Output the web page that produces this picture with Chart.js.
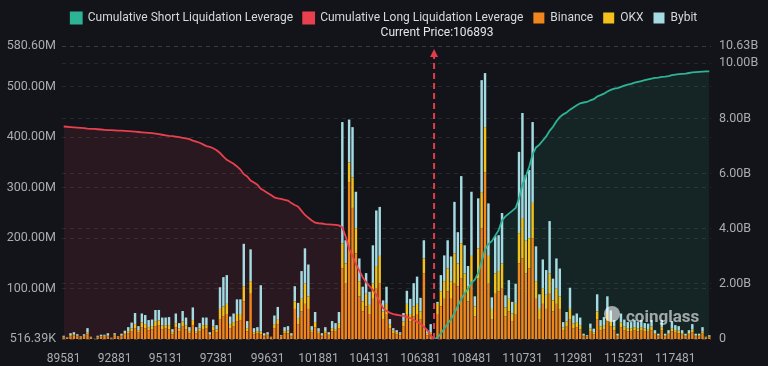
<html>
<head>
<style>
  body { margin: 0; background: #131419; }
  #wrap { width: 768px; height: 366px; }
</style>
</head>
<body>
<div id="wrap"><canvas id="myChart"></canvas></div>
<script src="https://cdn.jsdelivr.net/npm/chart.js@4.4.1/dist/chart.umd.min.js"></script>
<script>
// price levels (x categories)
var categories = [
  89581, 89731, 89881, 90031, 90331, 90481, 90781, 91081, 91231, 91531, 91831, 91981, 92281, 92581, 92731,
  92881, 93031, 93181, 93331, 93481, 93631, 93781, 93931, 94081, 94231, 94381, 94531, 94681, 94831, 94981,
  95131, 95281, 95431, 95581, 95731, 95881, 96031, 96181, 96331, 96481, 96631, 96781, 96931, 97081, 97231,
  97381, 97531, 97681, 97831, 97981, 98131, 98281, 98431, 98581, 98731, 98881, 99031, 99181, 99331, 99481,
  99631, 99781, 99931, 100081, 100231, 100381, 100531, 100681, 100831, 100981, 101131, 101281, 101431, 101581, 101731,
  101881, 102031, 102181, 102331, 102481, 102631, 102781, 102931, 103081, 103231, 103381, 103531, 103681, 103831, 103981,
  104131, 104281, 104431, 104581, 104731, 104881, 105031, 105181, 105331, 105481, 105631, 105781, 105931, 106081, 106231,
  106381, 106531, 106681, 106831, 106893, 106981, 107131, 107281, 107431, 107581, 107731, 107881, 108031, 108181, 108331,
  108481, 108631, 108781, 108931, 109081, 109231, 109381, 109531, 109681, 109831, 109981, 110131, 110281, 110431, 110581,
  110731, 110881, 111031, 111181, 111331, 111481, 111631, 111781, 111931, 112081, 112231, 112381, 112531, 112681, 112831,
  112981, 113131, 113281, 113431, 113581, 113731, 113881, 114031, 114181, 114331, 114481, 114631, 114781, 114931, 115081,
  115231, 115381, 115531, 115681, 115831, 115981, 116131, 116281, 116431, 116581, 116731, 116881, 117031, 117181, 117331,
  117481, 117631, 117781, 117931, 118081, 118231, 118381, 118531, 118681, 118831, 118981
];
var currentPrice = 106893;
var xTickLabels = [89581, 92881, 95131, 97381, 99631, 101881, 104131, 106381, 108481, 110731, 112981, 115231, 117481];

// liquidation leverage per price level, in millions
var binance = [
  4,3,6,8,6,4,5,10,3,1,4,5,5,6,2,
  7,4,6,9,12,15,22,13,24,22,18,20,26,28,20,21,20,10,24,16,26,20,12,28,12,16,20,21,7,18,14,40,45,50,22,25,36,38,75,16,90,10,12,10,6,7,3,
  22,30,5,12,12,6,60,30,55,70,60,13,24,11,6,12,7,16,15,22,140,110,310,260,170,85,55,65,50,80,100,110,40,50,22,12,10,8,25,50,35,45,50,40,130,8,
  10,0,
  50,65,80,95,80,110,105,120,90,75,110,45,120,220,330,110,40,90,95,100,45,55,36,50,150,160,130,140,200,80,40,70,60,90,55,70,60,17,25,40,22,24,20,6,5,15,10,40,18,20,35,26,18,6,24,18,16,15,18,16,17,15,15,18,9,6,17,6,9,16,13,12,9,6,9,14,6,6,11,3,4
];
var okx = [
  1,0,2,2,1,1,2,3,1,0,1,1,2,2,0,
  2,1,2,3,4,6,8,5,9,8,6,6,10,9,7,7,8,4,8,5,9,7,4,10,4,5,8,7,3,7,5,20,20,20,8,9,14,12,30,6,25,4,4,5,2,3,1,
  8,10,1,4,5,2,15,12,25,40,25,5,10,4,2,4,3,6,5,10,50,40,40,60,50,30,20,25,18,30,45,55,15,20,8,5,4,3,10,20,15,20,20,15,30,3,
  4,0,
  20,30,35,45,35,60,45,70,40,30,55,20,60,70,90,55,20,40,40,50,18,25,15,22,60,80,65,60,70,35,20,30,28,40,22,30,25,6,10,20,9,10,8,2,1,6,4,15,7,8,15,10,7,2,9,7,6,7,6,6,7,6,5,7,3,2,7,2,3,6,5,5,3,2,3,5,2,2,4,1,2
];
var bybit = [
  2,1,4,4,3,1,3,9,1,0,2,3,2,4,1,
  3,1,3,5,8,12,22,8,18,18,14,13,22,21,16,15,16,6,19,11,21,16,8,25,8,11,15,15,4,14,9,43,58,57,15,17,29,29,84,14,63,8,8,92,4,4,1,
  17,24,2,8,9,4,30,30,55,70,63,8,20,7,4,8,4,14,12,22,240,46,85,100,72,45,29,41,26,76,110,97,22,34,10,5,4,3,17,26,30,46,54,27,36,7,
  16,0,
  4,32,51,56,49,102,62,133,56,40,127,20,99,223,107,104,23,74,71,100,24,37,23,38,161,208,130,135,160,69,29,58,49,104,43,60,55,11,19,42,16,17,15,3,2,10,7,34,13,16,35,21,13,3,18,14,12,12,14,12,14,11,11,13,6,3,14,3,6,14,10,9,6,3,6,11,3,3,9,1,2
];

// cumulative leverage, in billions (long: left of current price, short: right of it)
var cumLong = [
  7.71,7.70,7.69,7.68,7.67,7.66,7.65,7.63,7.62,7.62,7.61,7.60,7.59,7.58,7.58,
  7.57,7.56,7.56,7.55,7.54,7.53,7.52,7.51,7.50,7.49,7.48,7.47,7.45,7.43,7.41,
  7.39,7.37,7.36,7.34,7.32,7.30,7.28,7.25,7.20,7.16,7.12,7.06,7.00,6.97,6.92,
  6.85,6.75,6.62,6.50,6.43,6.36,6.26,6.15,5.98,5.90,5.75,5.68,5.60,5.45,5.38,
  5.30,5.22,5.14,5.10,5.08,5.05,5.02,4.93,4.86,4.80,4.65,4.50,4.40,4.30,4.22,
  4.20,4.19,4.17,4.16,4.15,4.14,4.12,4.05,3.72,3.28,3.02,2.72,2.48,2.24,2.06,
  1.92,1.78,1.60,1.35,1.12,1.02,0.95,0.90,0.88,0.86,0.84,0.80,0.76,0.70,0.62,
  0.55,0.44,0.32,0.12,0
];
var cumShort = [
  0,0.05,0.20,0.38,0.55,0.72,0.95,1.20,1.45,1.65,1.82,2.05,2.15,2.40,2.80,
  3.25,3.45,3.55,3.75,3.95,4.30,4.45,4.55,4.65,4.75,5.10,5.60,5.90,6.25,6.70,
  6.95,7.05,7.20,7.35,7.55,7.70,7.90,8.05,8.15,8.22,8.32,8.40,8.48,8.55,8.58,
  8.60,8.66,8.70,8.80,8.85,8.90,8.98,9.04,9.08,9.10,9.15,9.19,9.23,9.26,9.30,
  9.33,9.36,9.39,9.42,9.45,9.47,9.48,9.51,9.52,9.54,9.57,9.59,9.61,9.62,9.63,
  9.65,9.67,9.68,9.69,9.70,9.71,9.71
];

var leftTicks = [0.51639, 100, 200, 300, 400, 500, 580.6];
var leftTickLabels = ['516.39K', '100.00M', '200.00M', '300.00M', '400.00M', '500.00M', '580.60M'];
var rightTicks = [0, 2, 4, 6, 8, 10, 10.63];
var rightTickLabels = ['0', '2.00B', '4.00B', '6.00B', '8.00B', '10.00B', '10.63B'];

// pad the long series with nulls on the right, the short one on the left
var longData = cumLong.concat(new Array(categories.length - cumLong.length).fill(null));
var shortData = new Array(categories.length - cumShort.length).fill(null).concat(cumShort);

Chart.defaults.font.family = "Roboto, 'Noto Sans', sans-serif";
Chart.defaults.color = '#a9acb2';

var legendGap = {
    id: 'legendGap',
    beforeInit: function (chart) {
        var fit = chart.legend.fit;
        chart.legend.fit = function () {
            fit.bind(chart.legend)();
            this.height += 12;
        };
    }
};

var priceMarker = {
    id: 'priceMarker',
    afterDatasetsDraw: function (chart) {
        var ctx = chart.ctx;
        var area = chart.chartArea;
        var x = chart.scales.x.getPixelForValue(categories.indexOf(currentPrice));
        ctx.save();
        ctx.strokeStyle = '#e33b49';
        ctx.fillStyle = '#e33b49';
        ctx.lineWidth = 2;
        ctx.setLineDash([6, 4]);
        ctx.beginPath();
        ctx.moveTo(x, area.bottom);
        ctx.lineTo(x, area.top + 10);
        ctx.stroke();
        ctx.setLineDash([]);
        ctx.beginPath();
        ctx.moveTo(x, area.top + 3);
        ctx.lineTo(x - 4, area.top + 11);
        ctx.lineTo(x + 4, area.top + 11);
        ctx.closePath();
        ctx.fill();
        ctx.fillStyle = '#e4e5e8';
        ctx.font = "12px Roboto, 'Noto Sans', sans-serif";
        ctx.textAlign = 'center';
        ctx.textBaseline = 'middle';
        ctx.fillText('Current Price:' + currentPrice, x + 3, area.top - 13);

        // watermark
        ctx.globalAlpha = 0.6;
        ctx.fillStyle = '#ffffff';
        ctx.font = "bold 17px Roboto, sans-serif";
        ctx.textAlign = 'left';
        ctx.fillText('coinglass', 626, 318);
        ctx.beginPath();
        ctx.arc(612, 314, 8, 0, Math.PI * 2);
        ctx.fill();
        ctx.restore();
    }
};

var ctx = document.getElementById('myChart').getContext('2d');
var chart = new Chart(ctx, {
    type: 'bar',
    data: {
        labels: categories,
        datasets: [
            {
                type: 'line',
                label: 'Cumulative Short Liquidation Leverage',
                data: shortData,
                yAxisID: 'y1',
                borderColor: '#2db396',
                backgroundColor: '#2db396',
                borderWidth: 1.8,
                pointRadius: 0,
                tension: 0,
                fill: { target: 'origin', above: 'rgba(45,179,150,0.11)' },
                order: 0
            },
            {
                type: 'line',
                label: 'Cumulative Long Liquidation Leverage',
                data: longData,
                yAxisID: 'y1',
                borderColor: '#e8404e',
                backgroundColor: '#e8404e',
                borderWidth: 1.8,
                pointRadius: 0,
                tension: 0,
                fill: { target: 'origin', above: 'rgba(232,64,78,0.11)' },
                order: 0
            },
            {
                label: 'Binance',
                data: binance,
                backgroundColor: '#f0861c',
                stack: 'ex',
                order: 1
            },
            {
                label: 'OKX',
                data: okx,
                backgroundColor: '#f4c01c',
                stack: 'ex',
                order: 1
            },
            {
                label: 'Bybit',
                data: bybit,
                backgroundColor: '#a4dbe2',
                stack: 'ex',
                order: 1
            }
        ]
    },
    options: {
        responsive: true,
        maintainAspectRatio: false,
        animation: false,
        datasets: {
            bar: { barPercentage: 0.72, categoryPercentage: 1, borderWidth: 0 }
        },
        layout: { padding: { top: 2, bottom: 0, left: 0, right: 0 } },
        plugins: {
            filler: { drawTime: 'beforeDatasetsDraw' },
            tooltip: { enabled: false },
            legend: {
                position: 'top',
                labels: {
                    color: '#d6d8dc',
                    boxWidth: 11,
                    boxHeight: 11,
                    padding: 10,
                    font: { size: 12 }
                }
            }
        },
        scales: {
            x: {
                stacked: true,
                grid: { display: false },
                border: { display: false },
                afterFit: function (scale) { scale.height = 27; },
                ticks: {
                    autoSkip: false,
                    maxRotation: 0,
                    padding: 5,
                    font: { size: 12 },
                    callback: function (value, index) {
                        var p = categories[index];
                        return xTickLabels.indexOf(p) >= 0 ? String(p) : '';
                    }
                }
            },
            y: {
                position: 'left',
                stacked: true,
                min: leftTicks[0],
                max: leftTicks[leftTicks.length - 1],
                afterBuildTicks: function (scale) {
                    scale.ticks = leftTicks.map(function (v) { return { value: v }; });
                },
                afterFit: function (scale) { scale.width = 62; },
                grid: { color: 'rgba(255,255,255,0.09)', drawTicks: false },
                border: { display: false, dash: [4, 4] },
                ticks: {
                    padding: 6,
                    font: { size: 12.5 },
                    callback: function (value) {
                        return leftTickLabels[leftTicks.indexOf(value)];
                    }
                }
            },
            y1: {
                position: 'right',
                min: rightTicks[0],
                max: rightTicks[rightTicks.length - 1],
                afterBuildTicks: function (scale) {
                    scale.ticks = rightTicks.map(function (v) { return { value: v }; });
                },
                afterFit: function (scale) { scale.width = 57; },
                grid: { color: 'rgba(255,255,255,0.09)', drawTicks: false },
                border: { display: false, dash: [4, 4] },
                ticks: {
                    padding: 8,
                    font: { size: 12.5 },
                    callback: function (value) {
                        return rightTickLabels[rightTicks.indexOf(value)];
                    }
                }
            }
        }
    },
    plugins: [legendGap, priceMarker]
});
</script>
</body>
</html>
